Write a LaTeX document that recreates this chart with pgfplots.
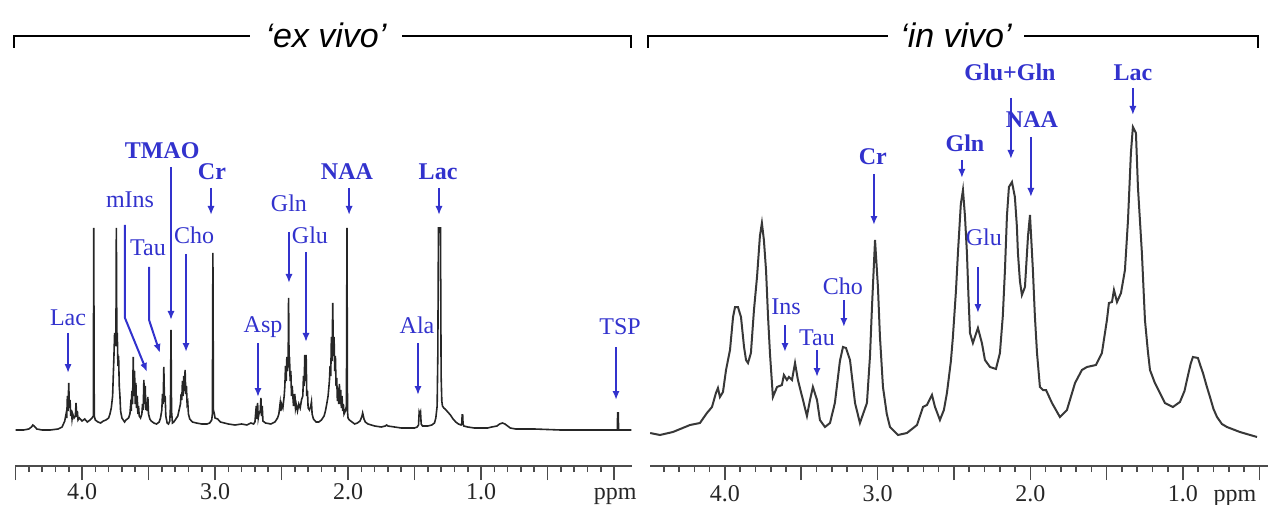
\documentclass[border=0pt]{standalone}
\usepackage{pgfplots}
\pgfplotsset{compat=1.18}
\usetikzlibrary{arrows.meta}
\usepackage{fontspec}
\setmainfont{Liberation Serif}
\newfontfamily\titlefont{Liberation Sans}
\definecolor{lblue}{RGB}{50,50,205}
\tikzset{
  lbl/.style={text=lblue, font=\fontsize{12}{14}\selectfont, inner sep=0pt},
  blbl/.style={text=lblue, font=\fontsize{12}{14}\selectfont\bfseries, inner sep=0pt},
  arr/.style={draw=lblue, line width=1pt, -{Latex[length=4.5pt,width=3.6pt]}},
  tl/.style={anchor=base, font=\fontsize{12}{14}\selectfont, inner sep=0pt, text=black!85},
}
\pgfplotsset{
  nmr/.style={
    scale only axis, anchor=south west, x dir=reverse,
    ymin=0, ymax=466,
    axis x line*=bottom, axis y line=none, clip=false,
    xtick={0,0.5,1,1.5,2,2.5,3,3.5,4,4.5}, minor x tick num=4,
    xticklabels={},
    tick align=outside, major tick length=7pt, minor tick length=3pt,
    tick style={black!70, line width=0.8pt},
    axis line style={black!70, line width=1pt},
  }
}
\begin{document}
\begin{tikzpicture}
\path[use as bounding box] (0pt,0pt) rectangle (634pt,252pt);
% brackets
\draw[line width=0.9pt] (7pt,228pt) -- (7pt,234pt) -- (315.5pt,234pt) -- (315.5pt,228pt);
\node[fill=white, inner xsep=8pt, inner ysep=0pt, anchor=base] at (163pt,228pt) {\titlefont\itshape\fontsize{17}{20}\selectfont ‘ex vivo’};
\draw[line width=0.9pt] (324pt,228pt) -- (324pt,234pt) -- (629pt,234pt) -- (629pt,228pt);
\node[fill=white, inner xsep=6pt, inner ysep=0pt, anchor=base] at (478pt,228pt) {\titlefont\itshape\fontsize{17}{20}\selectfont ‘in vivo’};

% ---------------- ex vivo ----------------
\begin{axis}[nmr, at={(7.5pt,19pt)}, width=308.5pt, height=233pt, xmin=-0.135, xmax=4.504]
\addplot[black!85, line width=0.8pt] coordinates {
(4.50,36)(4.44,36)(4.40,37)(4.38,39)(4.37,41)(4.36,40)(4.34,37)(4.30,36)(4.24,36)(4.18,37)(4.15,39)(4.14,42)(4.13,45)(4.12,52)(4.115,48)(4.11,70)(4.105,55)(4.10,83)(4.095,58)(4.09,66)(4.085,50)(4.08,56)(4.075,47)(4.07,52)(4.06,48)(4.05,50)(4.045,63)(4.04,49)(4.035,55)(4.03,46)(4.02,48)(4.00,45)(3.98,47)(3.96,44)(3.94,46)(3.925,48)(3.915,50)(3.912,238)(3.908,50)(3.90,46)(3.88,44)(3.86,43)(3.84,45)(3.82,46)(3.80,48)(3.79,52)(3.78,58)(3.77,70)(3.765,90)(3.76,110)(3.755,133)(3.75,120)(3.745,128)(3.742,238)(3.738,120)(3.735,133)(3.73,100)(3.725,110)(3.72,80)(3.715,70)(3.71,55)(3.70,48)(3.69,46)(3.68,44)(3.67,46)(3.65,48)(3.64,52)(3.635,60)(3.63,55)(3.625,75)(3.62,62)(3.615,109)(3.61,70)(3.605,95)(3.60,62)(3.595,83)(3.59,58)(3.585,70)(3.58,52)(3.575,60)(3.57,50)(3.56,48)(3.55,52)(3.545,62)(3.54,56)(3.535,86)(3.53,62)(3.525,80)(3.52,56)(3.515,64)(3.51,55)(3.505,69)(3.50,52)(3.49,47)(3.48,45)(3.46,43)(3.44,42)(3.42,44)(3.41,48)(3.40,56)(3.395,72)(3.39,62)(3.385,99)(3.38,64)(3.375,70)(3.37,50)(3.36,43)(3.35,42)(3.34,45)(3.335,60)(3.331,136)(3.327,55)(3.32,43)(3.31,44)(3.30,46)(3.28,50)(3.27,56)(3.26,62)(3.255,72)(3.25,66)(3.245,85)(3.24,70)(3.235,90)(3.23,75)(3.225,96)(3.22,72)(3.215,80)(3.21,62)(3.205,64)(3.20,52)(3.19,47)(3.17,44)(3.14,43)(3.10,42)(3.06,42)(3.04,43)(3.025,46)(3.02,52)(3.016,213)(3.012,56)(3.005,52)(3.00,48)(2.98,47)(2.96,44)(2.93,43)(2.90,42)(2.85,41)(2.80,42)(2.76,41)(2.73,43)(2.71,42)(2.70,44)(2.695,52)(2.69,60)(2.685,47)(2.68,63)(2.675,48)(2.67,52)(2.66,55)(2.655,68)(2.65,50)(2.645,60)(2.64,45)(2.62,43)(2.58,42)(2.55,44)(2.53,48)(2.52,52)(2.51,63)(2.505,55)(2.50,62)(2.49,58)(2.48,70)(2.475,80)(2.47,100)(2.465,85)(2.46,109)(2.455,95)(2.45,105)(2.447,168)(2.443,100)(2.44,109)(2.435,85)(2.43,95)(2.425,70)(2.42,80)(2.41,60)(2.40,72)(2.395,58)(2.39,62)(2.38,55)(2.37,62)(2.36,58)(2.35,66)(2.34,70)(2.335,90)(2.33,80)(2.325,111)(2.32,85)(2.315,111)(2.31,70)(2.305,75)(2.30,58)(2.29,56)(2.28,60)(2.275,64)(2.27,52)(2.26,47)(2.24,44)(2.22,44)(2.20,46)(2.18,50)(2.17,55)(2.16,62)(2.15,70)(2.14,85)(2.135,100)(2.13,90)(2.125,129)(2.12,105)(2.115,163)(2.11,110)(2.105,129)(2.10,95)(2.095,110)(2.09,80)(2.085,88)(2.08,65)(2.075,78)(2.07,62)(2.065,82)(2.06,62)(2.055,76)(2.05,58)(2.045,70)(2.04,55)(2.035,62)(2.03,52)(2.02,55)(2.012,60)(2.008,238)(2.004,55)(2.00,48)(1.99,46)(1.97,44)(1.95,42)(1.93,43)(1.91,45)(1.90,48)(1.895,50)(1.89,53)(1.885,50)(1.88,47)(1.87,44)(1.85,42)(1.80,40)(1.75,39)(1.72,40)(1.71,41)(1.70,40)(1.65,39)(1.60,38)(1.55,38)(1.50,38)(1.48,39)(1.47,41)(1.465,54)(1.46,52)(1.455,54)(1.45,42)(1.44,40)(1.40,40)(1.37,41)(1.35,43)(1.34,48)(1.33,60)(1.325,110)(1.32,238)(1.31,238)(1.305,238)(1.30,90)(1.295,65)(1.29,60)(1.28,58)(1.27,57)(1.25,54)(1.23,51)(1.21,47)(1.19,44)(1.17,42)(1.15,41)(1.145,42)(1.142,51)(1.138,51)(1.135,42)(1.13,40)(1.10,39)(1.05,38)(1.00,38)(0.95,38)(0.92,39)(0.88,40)(0.86,42)(0.84,43)(0.82,42)(0.80,40)(0.78,38)(0.74,37)(0.60,37)(0.40,36)(0.20,36)(0.02,36)(-0.025,36)(-0.027,53)(-0.032,53)(-0.034,36)(-0.08,36)(-0.13,36)
};
% tick labels
\node[tl] at (axis cs:4,0) [yshift=-16.5pt] {4.0};
\node[tl] at (axis cs:3,0) [yshift=-16.5pt] {3.0};
\node[tl] at (axis cs:2,0) [yshift=-16.5pt] {2.0};
\node[tl] at (axis cs:1,0) [yshift=-16.5pt] {1.0};
\node[tl] at (axis cs:-0.008,0) [yshift=-16.5pt] {ppm};
% annotations
\node[lbl] at (axis cs:4.105,148) {Lac};
\draw[arr] (axis cs:4.105,133) -- (axis cs:4.105,93);
\node[lbl] at (axis cs:3.639,266) {mIns};
\draw[arr] (axis cs:3.677,241) -- (axis cs:3.677,148) -- (axis cs:3.511,94);
\node[lbl] at (axis cs:3.504,218) {Tau};
\draw[arr] (axis cs:3.496,199) -- (axis cs:3.496,146) -- (axis cs:3.414,113);
\node[blbl] at (axis cs:3.398,315) {TMAO};
\draw[arr] (axis cs:3.331,299) -- (axis cs:3.331,146);
\node[blbl] at (axis cs:3.023,294) {Cr};
\draw[arr] (axis cs:3.030,278) -- (axis cs:3.030,251);
\node[lbl] at (axis cs:3.158,231) {Cho};
\draw[arr] (axis cs:3.218,212) -- (axis cs:3.218,114);
\node[lbl] at (axis cs:2.639,139) {Asp};
\draw[arr] (axis cs:2.677,123) -- (axis cs:2.677,69);
\node[lbl] at (axis cs:2.444,263) {Gln};
\draw[arr] (axis cs:2.444,234) -- (axis cs:2.444,183);
\node[lbl] at (axis cs:2.286,231) {Glu};
\draw[arr] (axis cs:2.316,214) -- (axis cs:2.316,124);
\node[blbl] at (axis cs:2.008,294) {NAA};
\draw[arr] (axis cs:1.992,278) -- (axis cs:1.992,251);
\node[blbl] at (axis cs:1.323,294) {Lac};
\draw[arr] (axis cs:1.316,278) -- (axis cs:1.316,251);
\node[lbl] at (axis cs:1.481,141) {Ala};
\draw[arr] (axis cs:1.474,123) -- (axis cs:1.474,71);
\node[lbl] at (axis cs:-0.045,139) {TSP};
\draw[arr] (axis cs:-0.015,119) -- (axis cs:-0.015,66);
\end{axis}

% ---------------- in vivo ----------------
\begin{axis}[nmr, at={(325pt,19pt)}, width=309pt, height=233pt, xmin=0.443, xmax=4.491]
\addplot[black!78, line width=1pt] coordinates {
(4.49,33)(4.426,31)(4.341,34)(4.229,41)(4.164,43)(4.118,53)(4.085,59)(4.059,73)(4.046,78)(4.033,69)(4.013,74)(3.993,96)(3.967,116)(3.947,149)(3.934,159)(3.915,159)(3.895,149)(3.875,119)(3.862,106)(3.849,103)(3.830,113)(3.810,156)(3.790,189)(3.771,230)(3.758,243)(3.745,226)(3.731,196)(3.718,150)(3.705,112)(3.686,69)(3.659,79)(3.627,81)(3.614,91)(3.594,86)(3.581,89)(3.561,86)(3.541,103)(3.522,86)(3.489,66)(3.463,50)(3.443,66)(3.424,79)(3.397,66)(3.378,46)(3.345,39)(3.312,43)(3.280,63)(3.247,105)(3.227,119)(3.207,118)(3.181,106)(3.148,63)(3.116,43)(3.070,63)(3.050,110)(3.037,159)(3.017,226)(2.998,179)(2.985,130)(2.965,79)(2.940,52)(2.919,39)(2.867,31)(2.808,33)(2.742,41)(2.703,59)(2.677,61)(2.644,71)(2.624,59)(2.592,46)(2.566,56)(2.546,73)(2.520,105)(2.507,129)(2.487,175)(2.474,213)(2.455,262)(2.441,276)(2.428,250)(2.415,213)(2.405,170)(2.395,133)(2.376,123)(2.343,138)(2.317,123)(2.297,106)(2.264,99)(2.225,97)(2.199,113)(2.180,150)(2.166,196)(2.153,250)(2.140,279)(2.120,284)(2.101,269)(2.088,240)(2.081,213)(2.068,185)(2.055,171)(2.035,179)(2.015,230)(2.002,251)(1.983,196)(1.970,150)(1.956,113)(1.937,79)(1.917,76)(1.897,76)(1.858,63)(1.806,49)(1.760,56)(1.707,83)(1.662,96)(1.629,99)(1.570,101)(1.531,113)(1.498,146)(1.485,163)(1.465,164)(1.452,176)(1.432,164)(1.406,173)(1.380,196)(1.360,246)(1.341,313)(1.328,339)(1.308,333)(1.295,279)(1.269,213)(1.249,146)(1.230,115)(1.216,96)(1.184,83)(1.151,73)(1.118,63)(1.066,59)(1.020,64)(0.990,75)(0.974,86)(0.950,102)(0.935,109)(0.902,108)(0.885,100)(0.869,93)(0.845,80)(0.823,69)(0.800,57)(0.777,49)(0.745,42)(0.712,39)(0.627,34)(0.515,29)
};
\node[tl] at (axis cs:4,0) [yshift=-17.5pt] {4.0};
\node[tl] at (axis cs:3,0) [yshift=-17.5pt] {3.0};
\node[tl] at (axis cs:2,0) [yshift=-17.5pt] {2.0};
\node[tl] at (axis cs:1,0) [yshift=-17.5pt] {1.0};
\node[tl] at (axis cs:0.66,0) [yshift=-17.5pt] {ppm};
% annotations
\node[lbl] at (axis cs:3.600,159) {Ins};
\draw[arr] (axis cs:3.607,141) -- (axis cs:3.607,114);
\node[lbl] at (axis cs:3.397,128) {Tau};
\draw[arr] (axis cs:3.397,116) -- (axis cs:3.397,89);
\node[lbl] at (axis cs:3.227,180) {Cho};
\draw[arr] (axis cs:3.221,166) -- (axis cs:3.221,139);
\node[blbl] at (axis cs:3.031,309) {Cr};
\draw[arr] (axis cs:3.024,292) -- (axis cs:3.024,241);
\node[blbl] at (axis cs:2.428,323) {Gln};
\draw[arr] (axis cs:2.448,306) -- (axis cs:2.448,288);
\node[lbl] at (axis cs:2.304,229) {Glu};
\draw[arr] (axis cs:2.343,199) -- (axis cs:2.343,153);
\node[blbl] at (axis cs:2.133,394) {Glu+Gln};
\draw[arr] (axis cs:2.127,368) -- (axis cs:2.127,307);
\node[blbl] at (axis cs:1.989,346) {NAA};
\draw[arr] (axis cs:1.996,329) -- (axis cs:1.996,269);
\node[blbl] at (axis cs:1.328,393) {Lac};
\draw[arr] (axis cs:1.328,378) -- (axis cs:1.328,351);
\end{axis}
\end{tikzpicture}
\end{document}
